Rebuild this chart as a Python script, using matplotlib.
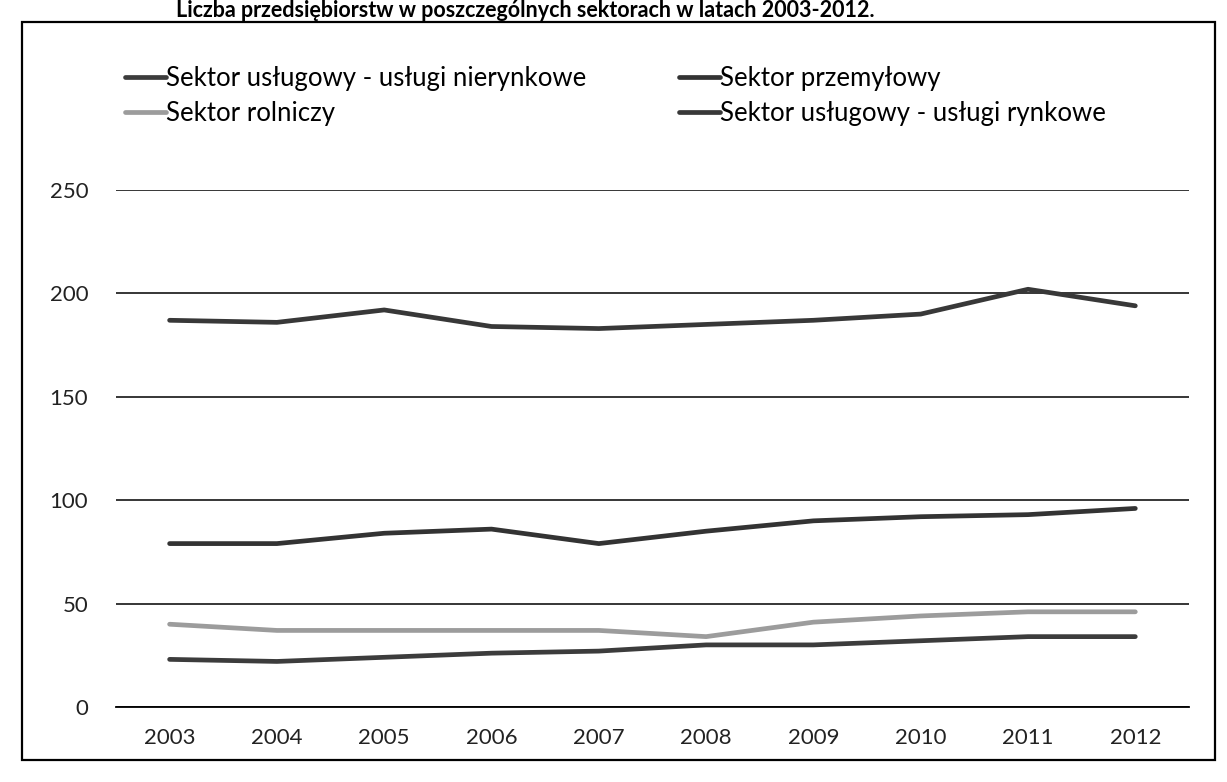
import matplotlib
matplotlib.use("Agg")
import matplotlib.pyplot as plt
from matplotlib.patches import Rectangle

# dane (liczba przedsiębiorstw)
lata = ["2003", "2004", "2005", "2006", "2007", "2008", "2009", "2010", "2011", "2012"]
uslugi_nierynkowe = [23, 22, 24, 26, 27, 30, 30, 32, 34, 34]
przemyslowy = [79, 79, 84, 86, 79, 85, 90, 92, 93, 96]
rolniczy = [40, 37, 37, 37, 37, 34, 41, 44, 46, 46]
uslugi_rynkowe = [187, 186, 192, 184, 183, 185, 187, 190, 202, 194]

etykiety = ["Sektor usługowy - usługi nierynkowe", "Sektor przemyłowy",
            "Sektor rolniczy", "Sektor usługowy - usługi rynkowe"]

plt.rcParams['font.family'] = ['Lato', 'DejaVu Sans']

fig = plt.figure(figsize=(12.27, 7.82), dpi=100)
ax = fig.add_axes([0.0945, 0.096, 0.8745, 0.661])

x = range(len(lata))
l1, = ax.plot(x, uslugi_nierynkowe, color='#3c3c3c', lw=3.4, solid_capstyle='round')
l2, = ax.plot(x, przemyslowy, color='#333333', lw=3.4, solid_capstyle='round')
l3, = ax.plot(x, rolniczy, color='#9c9c9c', lw=3.4, solid_capstyle='round')
l4, = ax.plot(x, uslugi_rynkowe, color='#383838', lw=3.4, solid_capstyle='round')

ax.set_xlim(-0.5, len(lata) - 0.5)
ax.set_ylim(0, 250)
ax.set_yticks([0, 50, 100, 150, 200, 250])
ax.set_xticks(list(x))
ax.set_xticklabels(lata)
ax.grid(axis='y', color='black', lw=1.1)
ax.set_axisbelow(True)
for s in ['top', 'right', 'left']:
    ax.spines[s].set_visible(False)
ax.spines['bottom'].set_linewidth(1.3)
ax.tick_params(axis='both', length=0, labelsize=16, colors='#222222')
ax.tick_params(axis='y', pad=20)
ax.tick_params(axis='x', pad=15)

# legenda w dwóch kolumnach (kolejność jak na oryginale)
fig.legend([l1, l3, l2, l4], [etykiety[0], etykiety[2], etykiety[1], etykiety[3]],
           loc='upper left', bbox_to_anchor=(0.083, 0.945), ncol=2, frameon=False,
           fontsize=18.5, handlelength=1.6, handletextpad=0.0, columnspacing=3.6,
           labelspacing=0.4)

# ramka wokół wykresu
fig.patches.append(Rectangle((0.018, 0.028), 0.972, 0.944, transform=fig.transFigure,
                             fill=False, edgecolor='black', lw=1.6))

# tytuł nad ramką
fig.text(875 / 1227, 1.0, "Liczba przedsiębiorstw w poszczególnych sektorach w latach 2003-2012.",
         fontsize=15.5, fontweight='bold', va='top', ha='right')

fig.savefig("out.png", dpi=100)
